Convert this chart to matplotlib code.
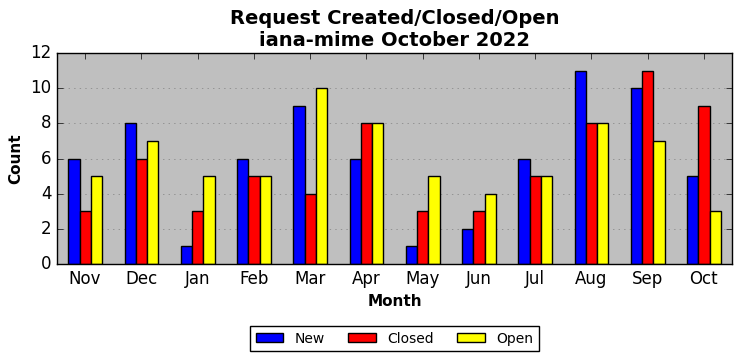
import numpy as np
import matplotlib.pyplot as plt

months = ["Nov", "Dec", "Jan", "Feb", "Mar", "Apr", "May", "Jun", "Jul", "Aug", "Sep", "Oct"]
new = [6, 8, 1, 6, 9, 6, 1, 2, 6, 11, 10, 5]
closed = [3, 6, 3, 5, 4, 8, 3, 3, 5, 8, 11, 9]
opened = [5, 7, 5, 5, 10, 8, 5, 4, 5, 8, 7, 3]

plt.style.use('classic')
fig = plt.figure(figsize=(7.41, 3.61), dpi=100)
ax = fig.add_axes([57 / 741, 1 - 264 / 361, 675 / 741, 211 / 361])
ax.set_facecolor('#bfbfbf')

x = np.arange(len(months))
w = 0.2
ax.bar(x - w, new, w, color='blue', edgecolor='black', label='New', align='center')
ax.bar(x, closed, w, color='red', edgecolor='black', label='Closed', align='center')
ax.bar(x + w, opened, w, color='yellow', edgecolor='black', label='Open', align='center')

ax.set_xlim(-0.5, 11.5)
ax.set_ylim(0, 12)
ax.set_xticks(x)
ax.set_xticklabels(months, fontsize=12)
ax.set_yticks(range(0, 13, 2))
ax.tick_params(axis='y', labelsize=12)
ax.yaxis.grid(True, linestyle=':', color='gray')
ax.set_axisbelow(True)

ax.set_title("Request Created/Closed/Open\niana-mime October 2022", fontsize=14, fontweight='bold')
ax.set_xlabel("Month", fontsize=11, fontweight='bold')
ax.set_ylabel("Count", fontsize=11, fontweight='bold')

ax.legend(loc='upper center', bbox_to_anchor=(0.5, -0.295), ncol=3, fontsize=10,
          frameon=True, handleheight=0.6, columnspacing=1.7, borderaxespad=0)

fig.savefig("out.png", dpi=100)
